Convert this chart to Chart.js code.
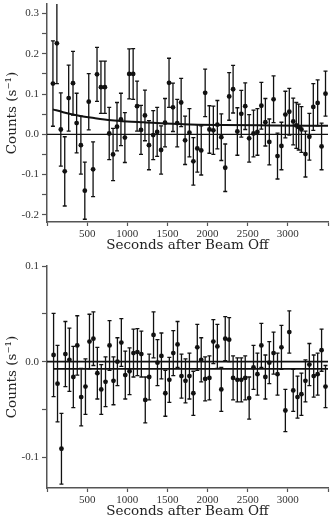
<!DOCTYPE html>
<html>
<head>
<meta charset="utf-8">
<script src="https://cdn.jsdelivr.net/npm/chart.js@4.4.0/dist/chart.umd.min.js"></script>
<style>
  html, body { margin: 0; padding: 0; background: #fff; }
  #top { position: absolute; left: 0; top: 0; }
  #bottom { position: absolute; left: 0; top: 262px; }
</style>
</head>
<body>
<canvas id="top" width="332" height="254"></canvas>
<canvas id="bottom" width="332" height="258"></canvas>
<script>
// top panel: counts vs time, with decaying fit
const topTime = [74,123,172,221,270,324,369,422,471,520,574,623,672,721,775,823,872,921,970,1024,1073,1122,1171,1220,1270,1323,1372,1421,1470,1520,1569,1622,1671,1720,1774,1823,1872,1921,1970,2023,2072,2122,2171,2220,2269,2318,2371,2420,2469,2518,2572,2621,2670,2720,2769,2822,2871,2920,2969,3018,3067,3105,3135,3169,3219,3268,3317,3371,3420,3469];
const topRate = [0.126,0.226,0.012,-0.092,0.090,0.127,0.028,-0.027,-0.140,0.081,-0.087,0.149,0.117,0.117,0.002,-0.050,0.019,0.037,-0.008,0.150,0.150,0.070,0.011,0.047,-0.027,-0.002,0.006,-0.039,0.029,0.128,0.067,0.028,0.079,-0.015,0.004,-0.067,-0.035,-0.040,0.103,0.012,0.010,0.024,-0.007,-0.083,0.094,0.112,0.007,0.051,0.070,-0.010,0.002,0.006,0.071,0.030,-0.019,0.087,-0.054,-0.029,0.049,0.056,0.032,0.022,0.018,0.012,-0.049,-0.006,0.068,0.078,-0.030,0.101];
const topErr = [0.106,0.100,0.091,0.086,0.082,0.079,0.074,0.072,0.071,0.070,0.068,0.067,0.065,0.065,0.065,0.065,0.060,0.065,0.062,0.062,0.063,0.062,0.061,0.063,0.061,0.061,0.061,0.060,0.060,0.061,0.060,0.059,0.060,0.060,0.060,0.059,0.059,0.061,0.059,0.059,0.060,0.060,0.058,0.059,0.059,0.059,0.059,0.058,0.058,0.059,0.058,0.058,0.058,0.059,0.057,0.058,0.057,0.059,0.058,0.058,0.058,0.057,0.057,0.057,0.057,0.058,0.058,0.057,0.058,0.056];
const topFitTime = [74,200,400,600,800,1000,1200,1700,2200,2800,3500];
const topFitRate = [0.062,0.055,0.046,0.040,0.035,0.032,0.030,0.025,0.023,0.022,0.021];

// bottom panel: background-subtracted counts, flat fit
const botTime = [82,131,180,229,279,328,377,426,479,529,578,627,676,729,779,828,877,926,975,1028,1077,1126,1175,1224,1273,1327,1376,1425,1474,1524,1573,1626,1675,1725,1774,1823,1872,1921,1970,2023,2072,2122,2171,2220,2269,2318,2371,2420,2469,2518,2572,2621,2670,2720,2769,2822,2871,2920,2969,3018,3067,3120,3169,3219,3268,3322,3371,3420,3469];
const botRate = [0.007,-0.023,-0.091,0.008,0.002,-0.016,0.017,-0.037,-0.026,0.021,0.024,-0.012,-0.029,-0.021,0.017,-0.020,0.000,0.020,-0.014,-0.010,0.009,0.010,0.008,-0.040,-0.016,0.028,-0.001,0.006,-0.033,-0.019,0.009,0.018,-0.015,-0.020,-0.015,-0.033,0.015,0.002,-0.018,-0.017,0.021,0.016,-0.029,0.024,0.023,-0.017,-0.019,-0.019,-0.017,-0.038,-0.006,-0.013,0.017,-0.016,-0.001,0.009,-0.013,0.015,-0.051,0.031,-0.030,-0.037,-0.034,-0.020,-0.003,-0.015,-0.013,0.012,-0.026];
const botErr = [0.0435,0.040,0.037,0.034,0.033,0.032,0.031,0.030,0.029,0.0286,0.028,0.027,0.026,0.026,0.026,0.025,0.025,0.025,0.025,0.0245,0.025,0.0245,0.024,0.024,0.024,0.024,0.024,0.024,0.024,0.0235,0.0235,0.024,0.023,0.023,0.024,0.023,0.024,0.023,0.023,0.023,0.023,0.023,0.023,0.023,0.023,0.023,0.023,0.023,0.023,0.022,0.023,0.022,0.023,0.023,0.022,0.022,0.022,0.023,0.022,0.022,0.022,0.022,0.022,0.022,0.022,0.022,0.022,0.022,0.022];
const botFitTime = [82,3500];
const botFitRate = [-0.0076,-0.0076];

const zeroTime = [0,3500];
const zeroRate = [0,0];

const xTickLabels = [500,1000,1500,2000,2500,3000];

const serif = "'Liberation Serif', 'DejaVu Serif', serif";
const wideSerif = "'DejaVu Serif', serif";
const ink = '#111';
const axisGrey = '#555';

const pairs = (xs, ys) => xs.map((x, i) => ({ x: x, y: ys[i] }));

// vertical error bars with small caps, drawn under the markers
const errorBars = {
  id: 'errorBars',
  beforeDatasetsDraw(chart, args, opts) {
    const { ctx, chartArea, scales } = chart;
    const pts = chart.data.datasets[0].data;
    ctx.save();
    ctx.beginPath();
    ctx.rect(chartArea.left, chartArea.top, chartArea.right - chartArea.left, chartArea.bottom - chartArea.top);
    ctx.clip();
    ctx.strokeStyle = ink;
    ctx.lineWidth = 1.3;
    pts.forEach((p, i) => {
      const px = scales.x.getPixelForValue(p.x);
      const hi = scales.y.getPixelForValue(p.y + opts.errors[i]);
      const lo = scales.y.getPixelForValue(p.y - opts.errors[i]);
      ctx.beginPath();
      ctx.moveTo(px, hi); ctx.lineTo(px, lo);
      ctx.moveTo(px - 2, hi); ctx.lineTo(px + 2, hi);
      ctx.moveTo(px - 2, lo); ctx.lineTo(px + 2, lo);
      ctx.stroke();
    });
    ctx.restore();
  }
};

function makePanel(canvasId, time, rate, err, fitTime, fitRate, yMin, yMax, padTop, fitWidth, zeroWidth) {
  return new Chart(document.getElementById(canvasId), {
    type: 'scatter',
    data: {
      datasets: [
        {
          data: pairs(time, rate),
          showLine: false,
          pointRadius: 2.4,
          pointBackgroundColor: ink,
          pointBorderWidth: 0
        },
        {
          data: pairs(fitTime, fitRate),
          showLine: true,
          borderColor: ink,
          borderWidth: fitWidth,
          cubicInterpolationMode: 'monotone',
          pointRadius: 0
        },
        {
          data: pairs(zeroTime, zeroRate),
          showLine: true,
          borderColor: ink,
          borderWidth: zeroWidth,
          pointRadius: 0
        }
      ]
    },
    options: {
      responsive: false,
      animation: false,
      layout: { padding: { top: padTop, left: 0, right: 0, bottom: 0 } },
      plugins: {
        legend: { display: false },
        tooltip: { enabled: false },
        errorBars: { errors: err }
      },
      scales: {
        x: {
          type: 'linear',
          min: 0,
          max: 3500,
          border: { display: true, color: axisGrey, width: 1.5 },
          grid: { drawOnChartArea: false, drawTicks: true, tickLength: 4, color: axisGrey, tickWidth: 1.2 },
          ticks: {
            stepSize: 500,
            maxRotation: 0,
            padding: 2,
            color: '#333',
            font: { family: serif, size: 11 },
            callback: (v) => xTickLabels.includes(v) ? String(v) : ''
          },
          title: {
            display: true,
            text: 'Seconds after Beam Off',
            color: '#222',
            font: { family: wideSerif, size: 13.5 },
            padding: { top: 0, bottom: 0 }
          },
          afterFit: (s) => { s.height = 32; s.paddingLeft = 0; s.paddingRight = 0; }
        },
        y: {
          min: yMin,
          max: yMax,
          border: { display: true, color: axisGrey, width: 1.5 },
          grid: { drawOnChartArea: false, drawTicks: true, tickLength: 5, color: axisGrey, tickWidth: 1.2 },
          ticks: {
            stepSize: 0.05,
            includeBounds: false,
            padding: 3,
            color: '#333',
            font: { family: serif, size: 11 },
            callback: (v) => {
              const tenth = Math.round(v * 10);
              return Math.abs(v * 10 - tenth) < 1e-6 ? (tenth / 10).toFixed(1) : '';
            }
          },
          title: {
            display: true,
            text: 'Counts (s\u207B\u00B9)',
            color: '#222',
            font: { family: wideSerif, size: 13.5 },
            padding: { top: 4, bottom: 0 }
          },
          afterFit: (s) => { s.width = 47; s.paddingTop = 0; s.paddingBottom = 0; }
        }
      }
    },
    plugins: [errorBars]
  });
}

makePanel('top', topTime, topRate, topErr, topFitTime, topFitRate, -0.2178, 0.3237, 0, 2, 1.2);
makePanel('bottom', botTime, botRate, botErr, botFitTime, botFitRate, -0.132, 0.1, 3, 1.8, 1.8);
</script>
</body>
</html>
